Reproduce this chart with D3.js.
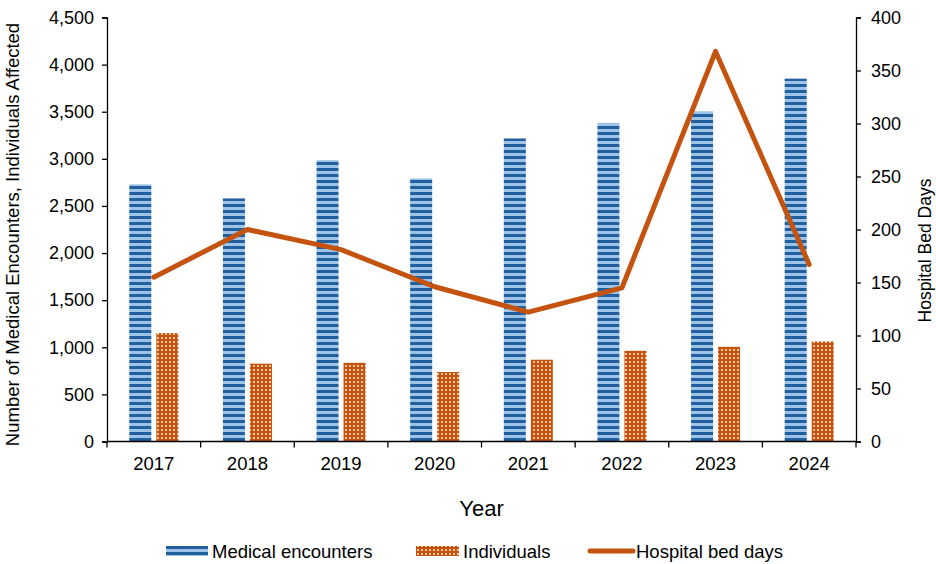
<!DOCTYPE html>
<html>
<head>
<meta charset="utf-8">
<script src="https://cdn.jsdelivr.net/npm/d3@7"></script>
<style>
  html, body { margin: 0; padding: 0; background: #fff; }
  svg { display: block; font-family: "Liberation Sans", Arial, sans-serif; }
</style>
</head>
<body>
<svg id="chart" width="936" height="564"></svg>
<script>
// Yearly counts
const years = ["2017", "2018", "2019", "2020", "2021", "2022", "2023", "2024"];
const medicalEncounters = [2730, 2580, 2986, 2792, 3216, 3381, 3505, 3851];
const individuals = [1151, 826, 836, 738, 868, 963, 1006, 1062];
const hospitalBedDays = [155, 200, 181, 146, 122, 145, 368, 167];

const leftTicks = [0, 500, 1000, 1500, 2000, 2500, 3000, 3500, 4000, 4500];
const rightTicks = [0, 50, 100, 150, 200, 250, 300, 350, 400];

const svg = d3.select("#chart");
const margin = { left: 107, right: 936 - 856, top: 17.5, bottom: 564 - 441.5 };
const W = 936, H = 564;
const plotL = margin.left, plotR = W - margin.right, plotT = margin.top, plotB = H - margin.bottom;

const x = d3.scaleBand().domain(years).range([plotL, plotR]).padding(0);
const series = ["med", "ind"];
const bw = x.bandwidth();
const xs = d3.scaleBand().domain(series).range([22.3, bw - 22.3]).paddingInner(0.185).paddingOuter(0);
const yL = d3.scaleLinear().domain([0, 4500]).range([plotB, plotT]);
const yR = d3.scaleLinear().domain([0, 400]).range([plotB, plotT]);

const orange = "#C4530F";

// Fill patterns
const defs = svg.append("defs");
const pMed = defs.append("pattern").attr("id", "stripes").attr("patternUnits", "userSpaceOnUse")
  .attr("width", 8).attr("height", 6);
pMed.append("rect").attr("width", 8).attr("height", 6).attr("fill", "#9dc3e6");
pMed.append("rect").attr("y", 0).attr("width", 8).attr("height", 3).attr("fill", "#215f9e");

const pInd = defs.append("pattern").attr("id", "dots").attr("patternUnits", "userSpaceOnUse")
  .attr("width", 4).attr("height", 4);
pInd.append("rect").attr("width", 4).attr("height", 4).attr("fill", orange);
pInd.append("rect").attr("x", 1).attr("y", 1).attr("width", 2).attr("height", 2).attr("fill", "#f3c4a0");

// Bars
const g = svg.append("g");
g.selectAll("rect.med").data(years).join("rect").attr("class", "med")
  .attr("x", (d) => x(d) + xs("med"))
  .attr("width", xs.bandwidth())
  .attr("y", (d, i) => yL(medicalEncounters[i]))
  .attr("height", (d, i) => plotB - yL(medicalEncounters[i]))
  .attr("fill", "url(#stripes)");
g.selectAll("rect.ind").data(years).join("rect").attr("class", "ind")
  .attr("x", (d) => x(d) + xs("ind"))
  .attr("width", xs.bandwidth())
  .attr("y", (d, i) => yL(individuals[i]))
  .attr("height", (d, i) => plotB - yL(individuals[i]))
  .attr("fill", "url(#dots)");

// Line on the secondary axis
const line = d3.line().x((d, i) => x(years[i]) + bw / 2).y((d) => yR(d));
svg.append("path").datum(hospitalBedDays).attr("d", line)
  .attr("fill", "none").attr("stroke", orange).attr("stroke-width", 5)
  .attr("stroke-linejoin", "round").attr("stroke-linecap", "round");

// Axes
const tickFont = 18;
const axL = svg.append("g").attr("transform", `translate(${plotL},0)`)
  .call(d3.axisLeft(yL).tickValues(leftTicks).tickFormat(d3.format(",")).tickSize(5).tickPadding(8));
const axR = svg.append("g").attr("transform", `translate(${plotR},0)`)
  .call(d3.axisRight(yR).tickValues(rightTicks).tickSize(5).tickPadding(10));
const axB = svg.append("g").attr("transform", `translate(0,${plotB})`)
  .call(d3.axisBottom(x).tickSize(0).tickPadding(15));
// category boundary ticks
svg.append("g").selectAll("line").data(d3.range(years.length + 1)).join("line")
  .attr("x1", (i) => plotL + i * bw).attr("x2", (i) => plotL + i * bw)
  .attr("y1", plotB).attr("y2", plotB + 6).attr("stroke", "#000").attr("stroke-width", 1.3);

[axL, axR, axB].forEach((a) => {
  a.selectAll(".domain").attr("stroke", "#000").attr("stroke-width", 1.3);
  a.selectAll(".tick line").attr("stroke", "#000").attr("stroke-width", 1.3);
  a.selectAll("text").attr("font-size", tickFont).attr("fill", "#000").attr("font-family", "Liberation Sans, Arial, sans-serif");
});
axB.selectAll("text").attr("font-size", 18.5);
axB.select(".domain").attr("d", `M${plotL},0H${plotR}`);

// Titles
svg.append("text").attr("transform", `translate(19,${(plotT + plotB) / 2 + 5}) rotate(-90)`)
  .attr("text-anchor", "middle").attr("font-size", 18.5).text("Number of Medical Encounters, Individuals Affected");
svg.append("text").attr("transform", `translate(931,${(plotT + plotB) / 2 + 21}) rotate(-90)`)
  .attr("text-anchor", "middle").attr("font-size", 17.5).text("Hospital Bed Days");
svg.append("text").attr("x", (plotL + plotR) / 2).attr("y", 516)
  .attr("text-anchor", "middle").attr("font-size", 22).text("Year");

// Legend
const leg = svg.append("g");
const ly = 551;
leg.append("rect").attr("x", 166).attr("y", ly - 5).attr("width", 42).attr("height", 10).attr("fill", "url(#stripes)");
leg.append("text").attr("x", 212).attr("y", ly + 6.5).attr("font-size", 18.5).text("Medical encounters");
leg.append("rect").attr("x", 416).attr("y", ly - 5).attr("width", 43).attr("height", 10).attr("fill", "url(#dots)");
leg.append("text").attr("x", 463).attr("y", ly + 6.5).attr("font-size", 18.5).text("Individuals");
leg.append("line").attr("x1", 590).attr("x2", 633).attr("y1", ly).attr("y2", ly)
  .attr("stroke", orange).attr("stroke-width", 5).attr("stroke-linecap", "round");
leg.append("text").attr("x", 636).attr("y", ly + 6.5).attr("font-size", 18.5).text("Hospital bed days");
</script>
</body>
</html>
